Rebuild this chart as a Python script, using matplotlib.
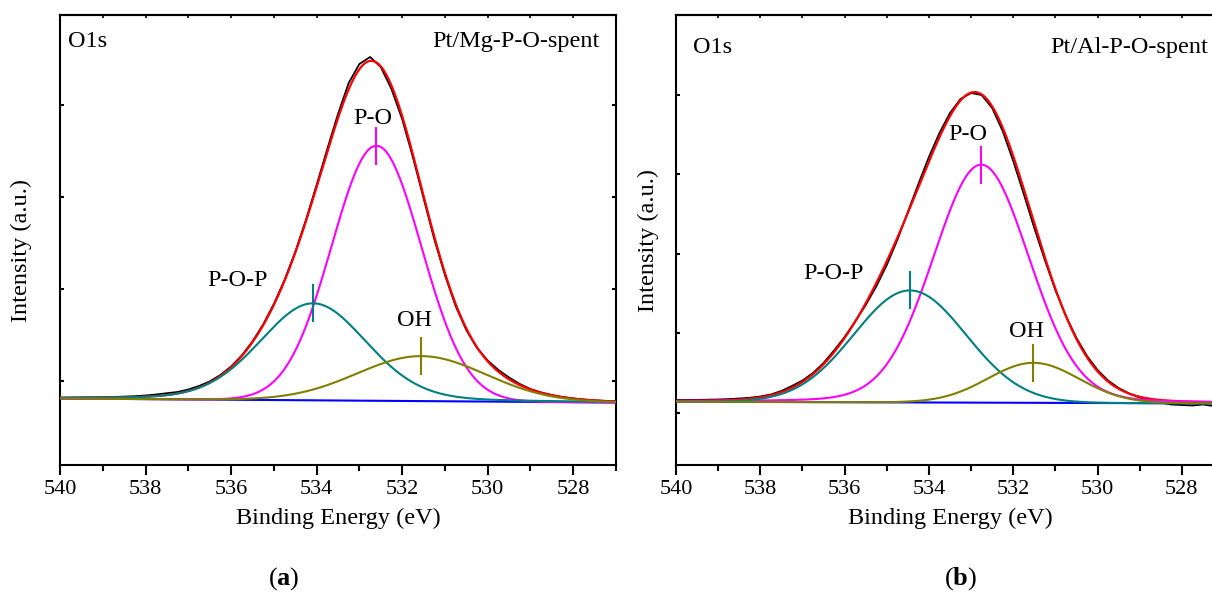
import numpy as np
import matplotlib.pyplot as plt
from matplotlib.ticker import MultipleLocator

plt.rcParams.update({
    "font.family": "serif",
    "font.serif": ["Liberation Serif", "DejaVu Serif"],
    "mathtext.fontset": "custom",
    "mathtext.rm": "Liberation Serif",
    "mathtext.bf": "Liberation Serif:bold",
    "font.size": 17.5,
    "axes.linewidth": 1.5,
})

W, H = 1212, 595

# measured O1s spectra, one value every 0.25 eV from 540 down to 527 eV
ENERGY = np.linspace(540, 527, 53)
RAW_MG = [2.0, 2.3, 2.5, 2.6, 2.8, 3.0, 3.4, 3.8, 4.5, 5.5,
          6.8, 8.0, 10.5, 14.0, 18.5, 25.0, 33.5, 44.5, 58.5, 75.5,
          96, 120, 148, 180, 215, 251, 286, 317, 336, 343,
          333, 311, 281, 243, 202, 161, 125, 94, 70, 52,
          39.5, 30, 22.5, 16, 11, 7.5, 5, 3, 1.6, 0.5,
          -0.3, -0.9, -1.3]
RAW_AL = [0.0, 0.0, 0.1, 0.3, 0.5, 0.9, 1.5, 2.2, 3.5, 5.5,
          9.0, 14.0, 19.5, 27.0, 37.0, 49.5, 63.0, 78.5, 95.0, 113.5,
          135, 160, 188, 216, 243, 267, 287, 301, 307, 305,
          292, 269, 239, 206, 172, 140, 110, 84, 62, 44,
          30, 19.5, 12, 6.5, 2.5, -0.5, -2.5, -4.5, -5.0, -5.5,
          -4.5, -6.0, -5.0]

# fitted components: P-O, P-O-P, OH
PEAK_NAMES = ["P-O", "P-O-P", "OH"]
PEAK_COLORS = ["#ff00ff", "#008080", "#808000"]

MG_CENTRE = [532.6, 534.08, 531.55]
MG_HEIGHT = [255, 97, 45]
MG_FWHM = [2.47, 2.94, 3.53]
MG_LOR = [0.0, 0.15, 0.0]
MG_BACKGROUND = [1.5, -2.5]     # linear background at 540 and 527 eV

AL_CENTRE = [532.76, 534.45, 531.52]
AL_HEIGHT = [238, 112, 40]
AL_FWHM = [2.7, 3.13, 2.54]
AL_LOR = [0.1, 0.0, 0.0]
AL_BACKGROUND = [-1.7, -3.4]


def pseudo_voigt(x, c, h, fwhm, lor):
    u = ((x - c) / (fwhm / 2)) ** 2
    return h * ((1 - lor) * np.exp(-np.log(2) * u) + lor / (1 + u))


def background(x, ends):
    return ends[0] + (540 - x) / 13 * (ends[1] - ends[0])


def draw_panel(ax, raw, centre, height, fwhm, lor, bg, sample, label_pos,
               tag, ytick_step, ytick_offset):
    x = np.linspace(540, 527, 700)
    base = background(x, bg)
    comps = [pseudo_voigt(x, c, h, f, m)
             for c, h, f, m in zip(centre, height, fwhm, lor)]

    ax.plot(ENERGY, raw, color="black", lw=1.3, zorder=2)
    ax.plot(x, base + sum(comps), color="red", lw=1.6, zorder=3)
    ax.plot(x, base, color="blue", lw=1.5, zorder=4)
    for i, (comp, col) in enumerate(zip(comps, PEAK_COLORS)):
        ax.plot(x, base + comp, color=col, lw=1.5, zorder=5 + i)
        cy = height[i] + background(centre[i], bg)
        ax.plot([centre[i]], [cy], marker="|", ms=27, mew=1.5,
                color=col, zorder=8)
        lx, ly = label_pos[i]
        ax.text(lx, ly, PEAK_NAMES[i], ha="center", va="center")

    ax.set_xlim(540, 527)
    ax.set_ylim(-65, 385)
    ax.xaxis.set_major_locator(MultipleLocator(2))
    ax.xaxis.set_minor_locator(MultipleLocator(1))
    ax.tick_params(axis="x", which="major", direction="out", length=7,
                   width=1.5, pad=4, labelsize=16)
    ax.tick_params(axis="x", which="minor", direction="out", length=4,
                   width=1.5)
    ax.yaxis.set_major_locator(MultipleLocator(ytick_step, offset=ytick_offset))
    ax.tick_params(axis="y", which="major", direction="in", length=3,
                   width=1.5, left=True, right=True, labelleft=False)

    top = ax.secondary_xaxis("top")
    top.xaxis.set_major_locator(MultipleLocator(2))
    top.xaxis.set_minor_locator(MultipleLocator(1))
    top.tick_params(which="both", direction="in", length=2.5, width=1.2,
                    labeltop=False)

    ax.set_xlabel("Binding Energy (eV)")
    ax.xaxis.set_label_coords(0.5, -0.095)
    ax.text(sample[0], sample[1], "O1s", transform=ax.transAxes,
            ha="left", va="center")
    ax.text(sample[2], sample[1], tag, transform=ax.transAxes,
            ha="right", va="center")


fig = plt.figure(figsize=(W / 100, H / 100), dpi=100)
ax1 = fig.add_axes([60 / W, (H - 465) / H, 556 / W, 450 / H])
ax2 = fig.add_axes([676 / W, (H - 465) / H, 548 / W, 450 / H])

draw_panel(ax1, RAW_MG, MG_CENTRE, MG_HEIGHT, MG_FWHM, MG_LOR, MG_BACKGROUND,
           (0.014, 0.942, 0.971),
           [(532.69, 282), (535.84, 120), (531.71, 80)],
           "Pt/Mg-P-O-spent", 92, 19)
draw_panel(ax2, RAW_AL, AL_CENTRE, AL_HEIGHT, AL_FWHM, AL_LOR, AL_BACKGROUND,
           (0.031, 0.928, 0.971),
           [(533.09, 265), (536.26, 126.5), (531.68, 68.5)],
           "Pt/Al-P-O-spent", 79.5, 67)

fig.text(21.5 / W, 1 - 250 / H, "Intensity (a.u.)", rotation=90,
         ha="center", va="center")
fig.text(648.5 / W, 1 - 240.5 / H, "Intensity (a.u.)", rotation=90,
         ha="center", va="center")

fig.text(284 / W, 1 - 579 / H, r"($\mathbf{a}$)", ha="center", va="center",
         fontsize=19)
fig.text(961 / W, 1 - 579 / H, r"($\mathbf{b}$)", ha="center", va="center",
         fontsize=19)

fig.savefig("out.png", dpi=100, facecolor="white")
